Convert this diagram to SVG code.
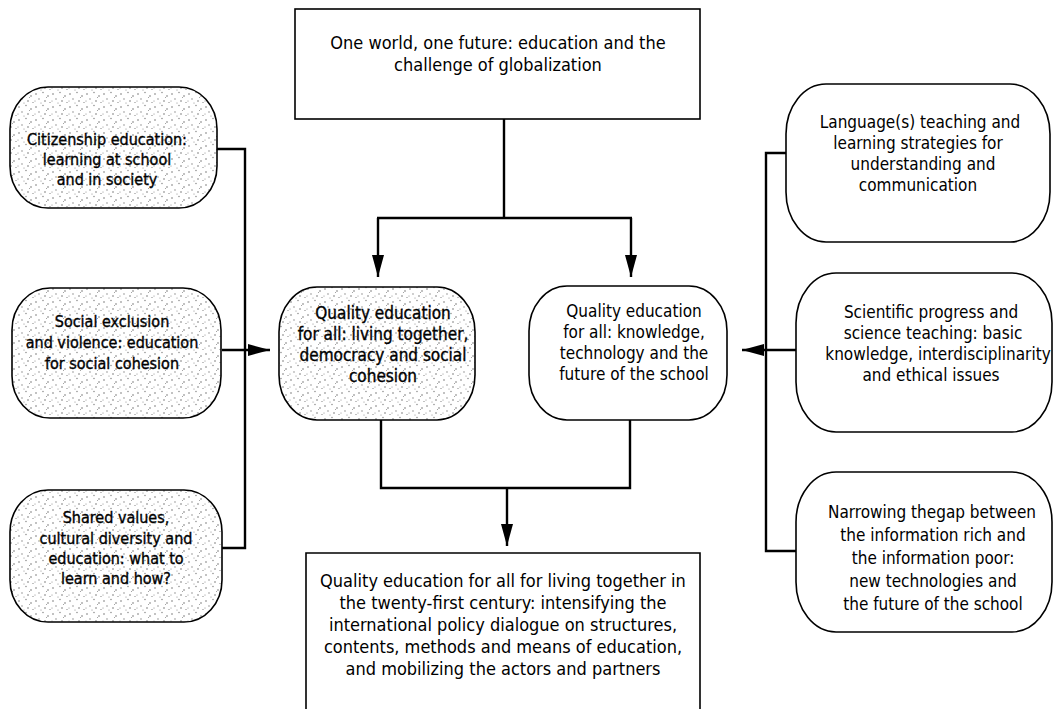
<svg xmlns="http://www.w3.org/2000/svg" width="1054" height="709" viewBox="0 0 1054 709">
<style>
  .box { fill: #ffffff; stroke: #000; stroke-width: 1.6; }
  .dot { fill: url(#stipple); stroke: #000; stroke-width: 1.6; }
  .con { fill: none; stroke: #000; stroke-width: 2.4; }
  text { font-family: "DejaVu Sans Condensed", "DejaVu Sans", sans-serif; fill: #000; text-anchor: middle; }
  .big { font-size: 18px; }
  .mid { font-size: 17px; }
  .sml { font-size: 16px; }
  .heavy { stroke: #000; stroke-width: 0.35; }
</style>
<defs>
  <pattern id="stipple" width="17" height="13" patternUnits="userSpaceOnUse">
    <rect width="17" height="13" fill="#fff"/>
    <circle cx="2" cy="3" r="0.75" fill="#666"/>
    <circle cx="9" cy="1.5" r="0.65" fill="#777"/>
    <circle cx="14" cy="5" r="0.75" fill="#666"/>
    <circle cx="5" cy="8" r="0.65" fill="#777"/>
    <circle cx="11" cy="10" r="0.75" fill="#666"/>
    <circle cx="16" cy="11.5" r="0.6" fill="#777"/>
    <circle cx="7" cy="12" r="0.55" fill="#888"/>
    <circle cx="12.5" cy="6.5" r="0.5" fill="#888"/>
    <circle cx="1" cy="10" r="0.55" fill="#888"/>
  </pattern>
  <marker id="arr" markerUnits="userSpaceOnUse" markerWidth="24" markerHeight="14" refX="22" refY="6" orient="auto">
    <path d="M0,0 L22,6 L0,12 z" fill="#000"/>
  </marker>
</defs>

<g id="connectors">
  <path class="con" d="M504,119 V218 M377,218 H632"/>
  <path class="con" d="M378,218 V277" marker-end="url(#arr)"/>
  <path class="con" d="M631,218 V277" marker-end="url(#arr)"/>
  <path class="con" d="M217,149 H245 V548 H222"/>
  <path class="con" d="M222,350 H270" marker-end="url(#arr)"/>
  <path class="con" d="M786,153 H766 V551 H796"/>
  <path class="con" d="M796,350 H742" marker-end="url(#arr)"/>
  <path class="con" d="M381,420 V488 H630 V420"/>
  <path class="con" d="M507,488 V546" marker-end="url(#arr)"/>
</g>

<g id="top">
  <rect class="box" x="295" y="9" width="405" height="110"/>
  <text class="big" x="498" y="49">One world, one future: education and the</text>
  <text class="big" x="498" y="71">challenge of globalization</text>
</g>

<g id="citizenship">
  <rect class="dot" x="10" y="87" width="207" height="121" rx="38" ry="42"/>
  <text class="sml heavy" x="107" y="145">Citizenship education:</text>
  <text class="sml heavy" x="107" y="165">learning at school</text>
  <text class="sml heavy" x="107" y="185">and in society</text>
</g>

<g id="social">
  <rect class="dot" x="12" y="288" width="209" height="130" rx="38" ry="42"/>
  <text class="sml heavy" x="112" y="327">Social exclusion</text>
  <text class="sml heavy" x="112" y="348">and violence: education</text>
  <text class="sml heavy" x="112" y="369">for social cohesion</text>
</g>

<g id="shared">
  <rect class="dot" x="10" y="490" width="212" height="132" rx="38" ry="42"/>
  <text class="sml heavy" x="116" y="523">Shared values,</text>
  <text class="sml heavy" x="116" y="544">cultural diversity and</text>
  <text class="sml heavy" x="116" y="564">education: what to</text>
  <text class="sml heavy" x="116" y="584">learn and how?</text>
</g>

<g id="living">
  <rect class="dot" x="279" y="287" width="196" height="133" rx="38" ry="45"/>
  <text class="mid heavy" x="383" y="319">Quality education</text>
  <text class="mid heavy" x="383" y="340">for all: living together,</text>
  <text class="mid heavy" x="383" y="361">democracy and social</text>
  <text class="mid heavy" x="383" y="382">cohesion</text>
</g>

<g id="knowledge">
  <rect class="box" x="529" y="286" width="198" height="134" rx="38" ry="45"/>
  <text class="mid" x="634" y="317">Quality education</text>
  <text class="mid" x="634" y="338">for all: knowledge,</text>
  <text class="mid" x="634" y="359">technology and the</text>
  <text class="mid" x="634" y="380">future of the school</text>
</g>

<g id="language">
  <rect class="box" x="786" y="84" width="264" height="158" rx="40" ry="50"/>
  <text class="mid" x="920" y="128">Language(s) teaching and</text>
  <text class="mid" x="918" y="149">learning strategies for</text>
  <text class="mid" x="923" y="170">understanding and</text>
  <text class="mid" x="918" y="191">communication</text>
</g>

<g id="science">
  <rect class="box" x="796" y="273" width="256" height="159" rx="40" ry="50"/>
  <text class="mid" x="931" y="318">Scientific progress and</text>
  <text class="mid" x="933" y="339">science teaching: basic</text>
  <text class="mid" x="938" y="360">knowledge, interdisciplinarity</text>
  <text class="mid" x="931" y="381">and ethical issues</text>
</g>

<g id="narrowing">
  <rect class="box" x="796" y="472" width="256" height="160" rx="40" ry="50"/>
  <text class="mid" x="932" y="518">Narrowing thegap between</text>
  <text class="mid" x="933" y="541">the information rich and</text>
  <text class="mid" x="933" y="564">the information poor:</text>
  <text class="mid" x="933" y="587">new technologies and</text>
  <text class="mid" x="933" y="610">the future of the school</text>
</g>

<g id="bottom">
  <path class="box" d="M306,712 V553 H700 V712"/>
  <text class="big" x="503" y="587">Quality education for all for living together in</text>
  <text class="big" x="503" y="609">the twenty-first century: intensifying the</text>
  <text class="big" x="503" y="631">international policy dialogue on structures,</text>
  <text class="big" x="503" y="653">contents, methods and means of education,</text>
  <text class="big" x="503" y="675">and mobilizing the actors and partners</text>
</g>
</svg>
